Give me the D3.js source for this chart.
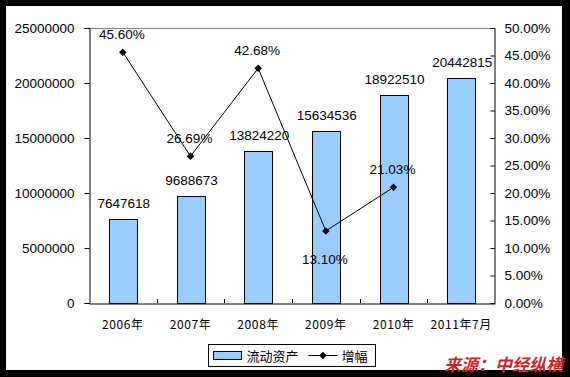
<!DOCTYPE html>
<html lang="zh">
<head>
    <meta charset="UTF-8">
    <title>流动资产</title>
    <script src="https://cdn.jsdelivr.net/npm/d3@7/dist/d3.min.js"></script>
    <style>
        body { margin: 0; background: #000; }
        svg { display: block; }
    </style>
</head>
<body>
<script>
    const years = ['2006年', '2007年', '2008年', '2009年', '2010年', '2011年7月']
    const assets = [7647618, 9688673, 13824220, 15634536, 18922510, 20442815]
    const growth = [0.4560, 0.2669, 0.4268, 0.1310, 0.2103]
    const growthLabels = ['45.60%', '26.69%', '42.68%', '13.10%', '21.03%']
    const growthSide = ['up', 'up', 'up', 'down', 'up']
    const leftTicks = [0, 5000000, 10000000, 15000000, 20000000, 25000000]
    const rightTicks = d3.range(0, 0.5001, 0.05)

    const [width, height] = [570, 377]
    const plot = {left: 89, right: 495, top: 28, bottom: 303}
    const font = '"Liberation Sans", Arial, sans-serif'

    const svg = d3.select('body').append('svg')
        .attr('width', width)
        .attr('height', height)

    // white card inside black frame
    svg.append('rect').attr('x', 6).attr('y', 6)
        .attr('width', 556).attr('height', 364).attr('fill', '#fff')

    const x = d3.scaleBand().domain(years).range([plot.left, plot.right])
    const y = d3.scaleLinear().domain([0, 25000000]).range([plot.bottom, plot.top])
    const y2 = d3.scaleLinear().domain([0, 0.5]).range([plot.bottom, plot.top])

    // top border of plot
    svg.append('line')
        .attr('x1', plot.left).attr('x2', plot.right)
        .attr('y1', plot.top + 0.5).attr('y2', plot.top + 0.5)
        .attr('stroke', '#808080')

    // bars
    const barW = x.bandwidth() * 0.41
    svg.selectAll('rect.bar').data(assets).enter().append('rect')
        .attr('class', 'bar')
        .attr('x', (d, i) => Math.round(x(years[i]) + (x.bandwidth() - barW) / 2) + 0.5)
        .attr('y', d => Math.round(y(d)) + 0.5)
        .attr('width', Math.round(barW))
        .attr('height', d => plot.bottom - Math.round(y(d)))
        .attr('fill', '#99ccff')
        .attr('stroke', '#000')
        .attr('stroke-width', 1)

    svg.selectAll('text.barlab').data(assets).enter().append('text')
        .attr('class', 'barlab')
        .attr('x', (d, i) => x(years[i]) + x.bandwidth() / 2 + 1)
        .attr('y', d => y(d) - 11)
        .attr('text-anchor', 'middle')
        .attr('font-family', font).attr('font-size', 13.5)
        .attr('fill', '#000')
        .text(d => d)

    // left axis
    const axL = svg.append('g')
        .attr('transform', `translate(${plot.left + 0.5},0)`)
        .call(d3.axisLeft(y).tickValues(leftTicks).tickSize(5).tickPadding(10).tickFormat(d => d))
    axL.select('.domain').attr('stroke', '#000')
    axL.selectAll('text').attr('font-family', font).attr('font-size', 13.5).attr('fill', '#000')

    // right axis (inner ticks)
    const axR = svg.append('g')
        .attr('transform', `translate(${plot.right - 0.5},0)`)
        .call(d3.axisRight(y2).tickValues(rightTicks).tickSize(-4).tickPadding(10)
            .tickFormat(d => (d * 100).toFixed(2) + '%'))
    axR.select('.domain').attr('stroke', '#000')
    axR.selectAll('text').attr('font-family', font).attr('font-size', 13.5).attr('fill', '#000')

    // bottom axis
    const axB = svg.append('g')
        .attr('transform', `translate(0,${plot.bottom + 0.5})`)
        .call(d3.axisBottom(x).tickSize(0).tickPadding(17))
    axB.select('.domain').attr('stroke', '#000')
    axB.selectAll('text')
        .attr('font-family', '"Noto Sans CJK SC", sans-serif').attr('font-size', 12)
        .attr('letter-spacing', 0.6)
        .attr('fill', '#000')
    svg.selectAll('line.xtick').data(years.slice(1)).enter().append('line')
        .attr('class', 'xtick')
        .attr('x1', d => Math.round(x(d)) + 0.5).attr('x2', d => Math.round(x(d)) + 0.5)
        .attr('y1', plot.bottom - 4).attr('y2', plot.bottom)
        .attr('stroke', '#000')

    // growth line
    const px = (d, i) => x(years[i]) + x.bandwidth() / 2
    const line = d3.line().x(px).y(d => y2(d))
    svg.append('path').datum(growth)
        .attr('d', line)
        .attr('fill', 'none')
        .attr('stroke', '#000')
        .attr('stroke-width', 1)
    const diamond = d3.symbol().type(d3.symbolDiamond2).size(36)
    svg.selectAll('path.pt').data(growth).enter().append('path')
        .attr('class', 'pt')
        .attr('d', diamond)
        .attr('transform', (d, i) => `translate(${px(d, i)},${y2(d)})`)
        .attr('fill', '#000')

    svg.selectAll('text.glab').data(growth).enter().append('text')
        .attr('class', 'glab')
        .attr('x', (d, i) => px(d, i) - 1)
        .attr('y', (d, i) => y2(d) + (growthSide[i] === 'up' ? -13 : 33))
        .attr('text-anchor', 'middle')
        .attr('font-family', font).attr('font-size', 13.5)
        .attr('fill', '#000')
        .text((d, i) => growthLabels[i])

    // legend
    const lg = svg.append('g').attr('transform', 'translate(208.5,344.5)')
    lg.append('rect').attr('width', 167).attr('height', 22)
        .attr('fill', '#fff').attr('stroke', '#000')
    lg.append('rect').attr('x', 5).attr('y', 7).attr('width', 28).attr('height', 8)
        .attr('fill', '#99ccff').attr('stroke', '#000')
    lg.append('text').attr('x', 38).attr('y', 16)
        .attr('font-family', '"Noto Sans CJK SC", sans-serif').attr('font-size', 13)
        .attr('fill', '#000').text('流动资产')
    lg.append('line').attr('x1', 100).attr('x2', 129).attr('y1', 11).attr('y2', 11)
        .attr('stroke', '#000')
    lg.append('path').attr('d', diamond).attr('transform', 'translate(114.5,11)').attr('fill', '#000')
    lg.append('text').attr('x', 133).attr('y', 16)
        .attr('font-family', '"Noto Sans CJK SC", sans-serif').attr('font-size', 13)
        .attr('fill', '#000').text('增幅')

    // source
    svg.append('text')
        .attr('x', 563).attr('y', 371)
        .attr('text-anchor', 'end')
        .attr('font-family', '"Noto Sans CJK SC", sans-serif')
        .attr('font-size', 17).attr('font-weight', 'bold').attr('font-style', 'italic')
        .attr('fill', '#c8282c')
        .text('来源：中经纵横')
</script>
</body>
</html>
